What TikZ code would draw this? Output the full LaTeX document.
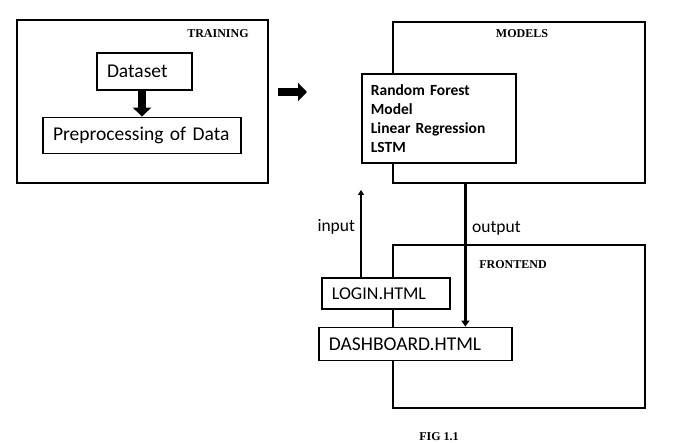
\documentclass[tikz,border=0pt]{standalone}
\usepackage{fontspec}
\setmainfont{Carlito}
\newfontfamily\tagfont{Liberation Serif}
\usetikzlibrary{arrows.meta, positioning}
\tikzset{
  panel/.style={rectangle, draw, line width=1.6pt, inner sep=0pt},
  block/.style={rectangle, draw, line width=1.4pt, fill=white, align=left,
                inner xsep=10pt, inner ysep=0pt, font=\fontsize{19.5}{22}\selectfont},
  listbox/.style={rectangle, draw, line width=1.4pt, fill=white, align=left,
                  inner xsep=9pt, text width=136pt, minimum height=89pt,
                  font=\bfseries\fontsize{15.5}{19}\selectfont},
  tag/.style={inner sep=0pt, font=\tagfont\bfseries\fontsize{12}{14}\selectfont},
  note/.style={inner sep=2pt, font=\fontsize{17.5}{20}\selectfont},
  bigarrow/.style={-{Triangle[width=18pt,length=9pt]}, line width=7.5pt},
  flow/.style={-{Triangle[width=8pt,length=6pt]}, line width=3.5pt},
  thinflow/.style={-{Triangle[width=6pt,length=5pt]}, line width=2pt}
}

\begin{document}
\begin{tikzpicture}[x=1pt, y=-1pt]
  \useasboundingbox (0,0) rectangle (673,443);

  % outer panels
  \node[panel, minimum width=251pt, minimum height=163pt] (training) at (142.5,101.5) {};
  \node[panel, minimum width=252pt, minimum height=161pt] (models) at (519,102.5) {};
  \node[panel, minimum width=252pt, minimum height=163pt] (frontend) at (519,326.5) {};

  \node[tag, below left=10pt and 20pt of training.north east] (trainingtag) {TRAINING};
  \node[tag, below=8pt of models.north, xshift=3pt] (modelstag) {MODELS};
  \node[tag, below=16pt of frontend.north, xshift=-6pt] (frontendtag) {FRONTEND};

  % training
  \node[block, text width=75pt, minimum height=37pt, below=33pt of training.north, xshift=2pt] (dataset) {Dataset};
  \node[block, text width=178pt, minimum height=36pt, below=26pt of dataset, xshift=-2.5pt] (prep) {Preprocessing of Data};

  % models
  \node[listbox, anchor=north west] (algos) at ([xshift=-31pt, yshift=-52pt]models.north west)
    {Random Forest\\Model\\Linear Regression\\LSTM};

  % frontend
  \node[block, text width=108pt, minimum height=31pt, anchor=north west,
        font=\fontsize{18}{20}\selectfont] (login)
    at ([xshift=-71pt, yshift=-33pt]frontend.north west) {LOGIN.HTML};
  \node[block, text width=173pt, minimum height=33pt, below right=17pt and -3pt of login.south west] (dashboard) {DASHBOARD.HTML};

  \coordinate (handoff) at (307,92);
  \coordinate (inputend) at (361,190);

  \draw[bigarrow] (dataset.south -| prep.north) -- (prep.north);
  \draw[bigarrow] ([xshift=9pt]training.east |- handoff) -- (handoff);
  \draw[thinflow] (login.north -| inputend) -- node[note, pos=0.58, left=3pt] (inputlbl) {input} (inputend);
  \draw[flow] ([xshift=50pt]dashboard.north |- models.south) -- node[note, pos=0.31, right=3pt] (outputlbl) {output} ([xshift=50pt]dashboard.north);

  \node[tag] (figcap) at (439,437) {FIG 1.1};

\end{tikzpicture}
\end{document}
